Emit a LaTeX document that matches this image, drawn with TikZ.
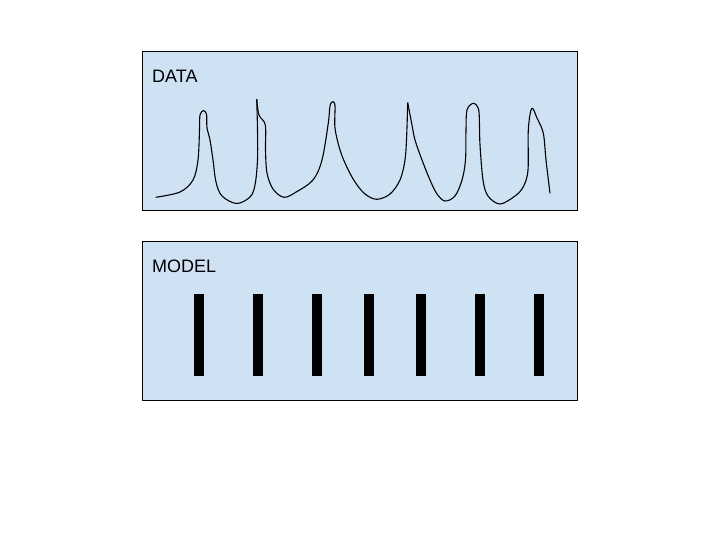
\documentclass[tikz,border=0pt]{standalone}
\usepackage{fontspec}
\setmainfont{Liberation Sans}
\usepackage{tikz}
\usepackage{xcolor}
\definecolor{panelblue}{HTML}{CFE2F3}
\tikzset{
    panel/.style={draw=black, fill=panelblue, line width=0.9pt},
    spike/.style={fill=black},
    signal/.style={draw=black, line width=1.1pt, line join=round},
    paneltitle/.style={font=\fontsize{18}{18}\selectfont, anchor=base west, inner sep=0pt}
}

\begin{document}
\begin{tikzpicture}[x=1pt, y=-1pt]
    \useasboundingbox (0,0) rectangle (720,540);
    \draw[panel] (142.5,51) rectangle (577.5,210);
    \draw[panel] (142.5,241) rectangle (577.5,400);
    \node[paneltitle] (data) at (152,82.5) {DATA};
    \node[paneltitle] (model) at (152,272.5) {MODEL};
    \draw[signal] plot[smooth, tension=0.55] coordinates {(155.7,197.3) (180,192) (193,180) (198,160) (199.5,130) (200,115) (203.3,110.7) (206.5,114) (207,128) (210,140) (213,160) (216,182) (222,196) (236.7,203.5) (250,197) (255,185) (257.5,160) (257.5,130) (256.7,99.3)};
    \draw[signal] plot[smooth, tension=0.55] coordinates {(256.7,99.3) (259,115) (265.3,125) (265.5,150) (267,173) (273,189) (284,197.3) (296.7,191.7) (313,180) (322,160) (328.3,123) (330,106) (332.7,101.7) (335,106) (335,128) (340,150) (346.7,166.7) (355,182) (365,194) (376.7,199.3) (390,194) (400,180) (405,160) (406.7,135) (407.7,102.7)};
    \draw[signal] plot[smooth, tension=0.55] coordinates {(407.7,102.7) (412,125) (415,140) (422,160) (430,180) (437,194) (445,201) (455,196) (462,180) (465.5,160) (466,130) (467,110) (473.3,103.3) (478.5,109) (479.5,125) (480,145) (483,180) (488,196) (500,204) (515,196) (523.3,186.7) (528,170) (528.3,130) (531.7,108.3) (537,118) (543.3,133.3) (546,160) (550,193.3)};
    \fill[spike] (194,294) rectangle (204,376);
    \fill[spike] (253,294) rectangle (263,376);
    \fill[spike] (312,294) rectangle (322,376);
    \fill[spike] (364,294) rectangle (374,376);
    \fill[spike] (416,294) rectangle (426,376);
    \fill[spike] (475,294) rectangle (485,376);
    \fill[spike] (534,294) rectangle (544,376);
\end{tikzpicture}
\end{document}
